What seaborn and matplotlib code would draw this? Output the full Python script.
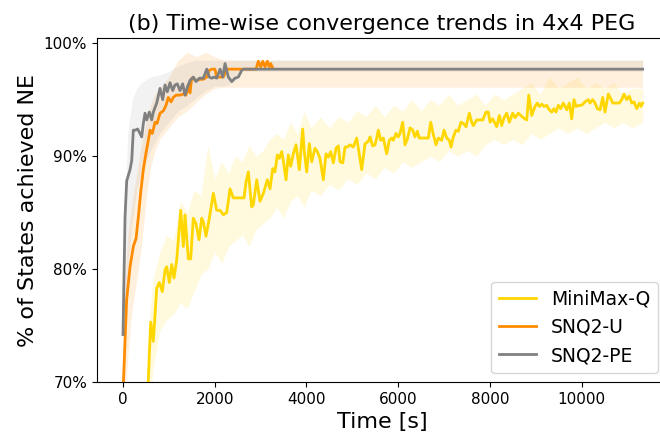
import pandas as pd
import numpy as np
import seaborn as sns
import matplotlib.pyplot as plt
from matplotlib.ticker import PercentFormatter

# MiniMax-Q mean curve (time [s], % of states at NE)
minimax_t = [520, 604, 661, 735, 792, 857, 916, 953, 1010, 1062, 1112, 1171, 1258, 1315,
             1352, 1424, 1476, 1533, 1592, 1658, 1716, 1751, 1810, 1882, 1970, 2043, 2116,
             2188, 2262, 2334, 2406, 2552, 2639, 2683, 2733, 2807, 2842, 2916, 2988, 3060,
             3147, 3206, 3265, 3315, 3365, 3409, 3461, 3496, 3555, 3605, 3657, 3714, 3773,
             3845, 3919, 3954, 4006, 4063, 4115, 4187, 4237, 4296, 4369, 4427, 4478, 4530,
             4587, 4646, 4696, 4733, 4792, 4842, 4892, 4951, 5023, 5097, 5132, 5206, 5278,
             5350, 5387, 5446, 5496, 5533, 5568, 5620, 5677, 5750, 5808, 5860, 5895, 5954,
             6004, 6041, 6100, 6150, 6200, 6260, 6319, 6369, 6419, 6462, 6587, 6659, 6711,
             6768, 6827, 6877, 6951, 7001, 7060, 7117, 7154, 7204, 7263, 7313, 7372, 7422,
             7481, 7553, 7605, 7640, 7714, 7786, 7845, 7917, 7967, 8004, 8063, 8113, 8150,
             8207, 8259, 8310, 8368, 8425, 8499, 8550, 8622, 8674, 8731, 8805, 8850, 8914,
             8986, 9036, 9080, 9131, 9182, 9240, 9297, 9350, 9400, 9444, 9494, 9546, 9603,
             9677, 9734, 9786, 9836, 9880, 9952, 10004, 10076, 10148, 10185, 10244, 10295,
             10345, 10404, 10462, 10512, 10585, 10637, 10680, 10752, 10824, 10877, 10927,
             10985, 11042, 11095, 11145, 11204, 11261, 11298, 11335]
minimax_v = [67.0, 75.3, 73.6, 78.3, 78.8, 78.0, 79.9, 80.2, 78.8, 80.4, 79.2, 80.8, 85.2, 82.0,
             84.8, 80.9, 80.9, 84.5, 84.0, 82.6, 84.5, 84.2, 82.9, 84.5, 86.7, 85.2, 85.2,
             84.8, 85.0, 87.1, 86.3, 86.3, 86.3, 87.7, 88.6, 85.5, 85.7, 87.9, 86.0, 86.7,
             87.9, 87.1, 88.9, 88.6, 90.1, 89.8, 90.4, 89.6, 87.9, 90.1, 89.1, 90.2, 91.0,
             88.8, 92.4, 90.4, 88.6, 91.1, 89.5, 90.7, 90.4, 89.8, 87.9, 90.2, 89.9, 90.4,
             89.4, 90.7, 90.9, 89.5, 89.4, 90.8, 90.8, 91.0, 90.8, 91.6, 90.7, 88.8, 91.1,
             91.3, 91.7, 90.9, 91.0, 91.6, 92.3, 91.4, 91.6, 90.2, 91.4, 91.6, 91.4, 92.0,
             91.7, 92.0, 93.0, 91.0, 91.5, 92.5, 92.3, 91.7, 92.2, 91.6, 91.6, 91.6, 93.0,
             91.9, 91.0, 91.6, 91.4, 92.3, 91.6, 91.4, 90.8, 91.7, 92.3, 92.2, 93.0, 92.9,
             92.6, 93.8, 93.0, 92.7, 93.2, 93.2, 93.2, 93.9, 93.9, 93.0, 93.3, 92.9, 92.6,
             93.6, 92.7, 93.4, 93.8, 93.0, 93.8, 93.4, 93.8, 93.6, 93.4, 93.2, 95.4, 93.6,
             94.4, 94.7, 94.4, 94.6, 94.4, 94.5, 94.1, 93.9, 94.2, 93.9, 94.5, 94.2, 94.7,
             94.1, 94.7, 93.3, 95.0, 94.4, 94.5, 94.5, 94.8, 95.0, 94.7, 95.0, 94.7,
             94.2, 94.1, 95.2, 93.9, 95.5, 95.1, 94.7, 94.7, 94.7, 95.0, 95.5,
             95.0, 95.3, 94.7, 94.8, 94.2, 94.7, 94.4, 94.7]

# MiniMax-Q shaded band
minimax_band_t = [520, 650, 800, 950, 1100, 1250, 1400, 1550, 1700, 1850, 2000, 2150, 2300,
                  2450, 2600, 2750, 2900, 3050, 3200, 3350, 3500, 3650, 3800, 3950, 4100,
                  4300, 4500, 4700, 4900, 5100, 5300, 5500, 5700, 5900, 6100, 6300, 6500,
                  6700, 6900, 7100, 7300, 7500, 7700, 7900, 8100, 8300, 8500, 8700, 8900,
                  9100, 9300, 9500, 9700, 9900, 10100, 10300, 10500, 10700, 10900, 11100, 11335]
minimax_lo = [65.0, 71.0, 74.5, 75.5, 76.0, 77.0, 76.5, 78.0, 79.5, 80.0, 81.5, 80.5, 82.0,
              82.5, 83.0, 82.0, 83.5, 84.0, 84.5, 85.5, 84.5, 86.0, 86.5, 85.5, 87.0,
              86.5, 87.5, 87.0, 88.0, 87.5, 88.5, 88.0, 89.0, 88.5, 89.5, 89.0, 89.5,
              90.0, 89.5, 90.5, 90.0, 90.5, 90.0, 91.0, 91.5, 91.0, 91.5, 91.0, 92.0,
              91.5, 92.0, 92.5, 92.0, 92.5, 92.0, 92.5, 93.0, 92.5, 93.0, 92.5, 93.0]
minimax_hi = [73.0, 79.0, 81.5, 83.0, 82.5, 86.0, 85.0, 87.0, 86.5, 91.0, 88.0, 89.5, 88.5,
              90.0, 89.5, 91.0, 90.0, 90.5, 91.5, 92.0, 91.5, 93.0, 92.0, 94.0, 92.5,
              93.5, 92.5, 93.5, 93.0, 94.0, 93.5, 94.5, 93.5, 94.5, 94.0, 95.0, 94.0,
              95.0, 94.5, 95.5, 94.5, 95.0, 95.5, 94.5, 95.5, 95.0, 95.5, 96.0, 96.5,
              95.5, 97.0, 96.0, 96.5, 97.0, 96.0, 96.5, 96.0, 96.5, 95.5, 96.0, 96.0]

# SNQ2-U mean curve
snq2u_t = [0, 80, 153, 225, 284, 334, 386, 443, 502, 552, 589, 639, 698, 742, 807, 879,
           938, 988, 1047, 1097, 1156, 1243, 1309, 1374, 1424, 1461, 1498, 1549, 1607,
           1679, 1751, 1826, 1882, 1941, 2006, 2043, 2116, 2188, 2262, 2399, 2552, 2704,
           2857, 2901, 2951, 3003, 3047, 3097, 3147, 3191, 3221, 3265]
snq2u_v = [69.0, 77.3, 80.2, 82.0, 82.7, 84.6, 86.8, 88.8, 90.3, 91.4, 92.3, 92.0, 93.0,
           92.9, 93.8, 94.0, 94.5, 95.2, 94.8, 95.2, 95.4, 95.4, 95.5, 95.4, 96.3, 95.6,
           96.9, 96.8, 96.7, 96.8, 96.8, 97.0, 97.6, 97.7, 97.7, 97.0, 97.0, 97.0, 97.7,
           97.7, 97.7, 97.7, 97.7, 97.7, 98.4, 97.9, 98.4, 97.9, 98.4, 97.9, 98.2, 97.8]
snq2u_band_t = [0, 100, 200, 300, 400, 500, 600, 700, 800, 1000, 1200, 1400, 1600, 1800,
                2000, 2200, 2400, 2600, 11335]
snq2u_lo = [66.0, 72.0, 76.5, 79.0, 82.0, 86.0, 89.0, 90.5, 91.5, 92.5, 93.5, 94.0, 94.8,
            95.5, 96.0, 96.1, 96.1, 96.1, 96.1]
snq2u_hi = [74.0, 83.0, 86.0, 88.5, 91.0, 93.0, 94.5, 95.5, 96.0, 97.0, 98.5, 99.2, 98.8,
            99.2, 98.8, 98.5, 98.5, 98.5, 98.5]

# SNQ2-PE mean curve
snq2pe_t = [0, 44, 80, 153, 190, 225, 270, 320, 371, 408, 440, 480, 517, 574, 626, 661,
            735, 807, 866, 916, 966, 1025, 1084, 1134, 1184, 1243, 1302, 1352, 1402, 1461,
            1533, 1592, 1664, 1751, 1826, 1882, 1935, 1985, 2044, 2116, 2174, 2225, 2297,
            2371, 2443, 2515, 2589, 2617, 11335]
snq2pe_v = [74.2, 84.6, 87.8, 88.8, 89.6, 92.3, 92.3, 92.4, 92.0, 91.7, 92.8, 93.8, 93.2,
            93.9, 93.2, 93.9, 94.7, 96.0, 95.0, 96.3, 95.7, 96.5, 95.8, 96.3, 96.4, 95.8,
            96.4, 95.4, 96.1, 96.7, 97.0, 96.6, 96.9, 96.9, 97.7, 97.0, 96.9, 97.0, 96.9,
            97.7, 97.0, 98.2, 97.0, 96.6, 96.9, 97.0, 97.6, 97.7, 97.7]
snq2pe_band_t = [0, 100, 200, 300, 400, 600, 800, 1000, 1200, 1400, 1600, 1800, 2000, 2200,
                 2400, 2600, 11335]
snq2pe_lo = [70.0, 80.0, 84.0, 87.0, 88.5, 90.5, 92.0, 93.0, 94.0, 94.5, 95.2, 95.8, 96.2,
             96.2, 96.5, 97.5, 97.5]
snq2pe_hi = [80.0, 92.0, 95.0, 96.0, 96.5, 97.0, 97.2, 97.5, 98.0, 98.3, 98.5, 98.5, 98.5,
             98.5, 98.5, 98.5, 98.5]

methods = ['MiniMax-Q', 'SNQ2-U', 'SNQ2-PE']
colors = ['gold', 'darkorange', 'grey']
band_alpha = [0.13, 0.13, 0.10]

df = pd.concat([
    pd.DataFrame({'Time': minimax_t, 'NE': minimax_v, 'Method': 'MiniMax-Q'}),
    pd.DataFrame({'Time': snq2u_t, 'NE': snq2u_v, 'Method': 'SNQ2-U'}),
    pd.DataFrame({'Time': snq2pe_t, 'NE': snq2pe_v, 'Method': 'SNQ2-PE'}),
])
bands = [(minimax_band_t, minimax_lo, minimax_hi),
         (snq2u_band_t, snq2u_lo, snq2u_hi),
         (snq2pe_band_t, snq2pe_lo, snq2pe_hi)]

fig = plt.figure(figsize=(6.6, 4.38), dpi=100)
ax = fig.add_axes([0.147, 0.128, 0.864, 0.785])

for (bt, lo, hi), c, a in zip(bands, colors, band_alpha):
    ax.fill_between(bt, lo, hi, color=c, alpha=a, linewidth=0)

sns.lineplot(data=df, x='Time', y='NE', hue='Method', hue_order=methods,
             palette=colors, linewidth=2, errorbar=None, sort=False, ax=ax)

ax.set_xlim(-567, 11870)
ax.set_ylim(70, 100.45)
ax.set_yticks([70, 80, 90, 100])
ax.yaxis.set_major_formatter(PercentFormatter(xmax=100, decimals=0))
ax.tick_params(labelsize=11)
ax.set_xlabel('Time [s]', fontsize=16)
ax.set_ylabel('% of States achieved NE', fontsize=16)
ax.set_title('(b) Time-wise convergence trends in 4x4 PEG', fontsize=16)
ax.legend(loc='lower right', fontsize=13.5)

plt.savefig('out.png', dpi=100)
